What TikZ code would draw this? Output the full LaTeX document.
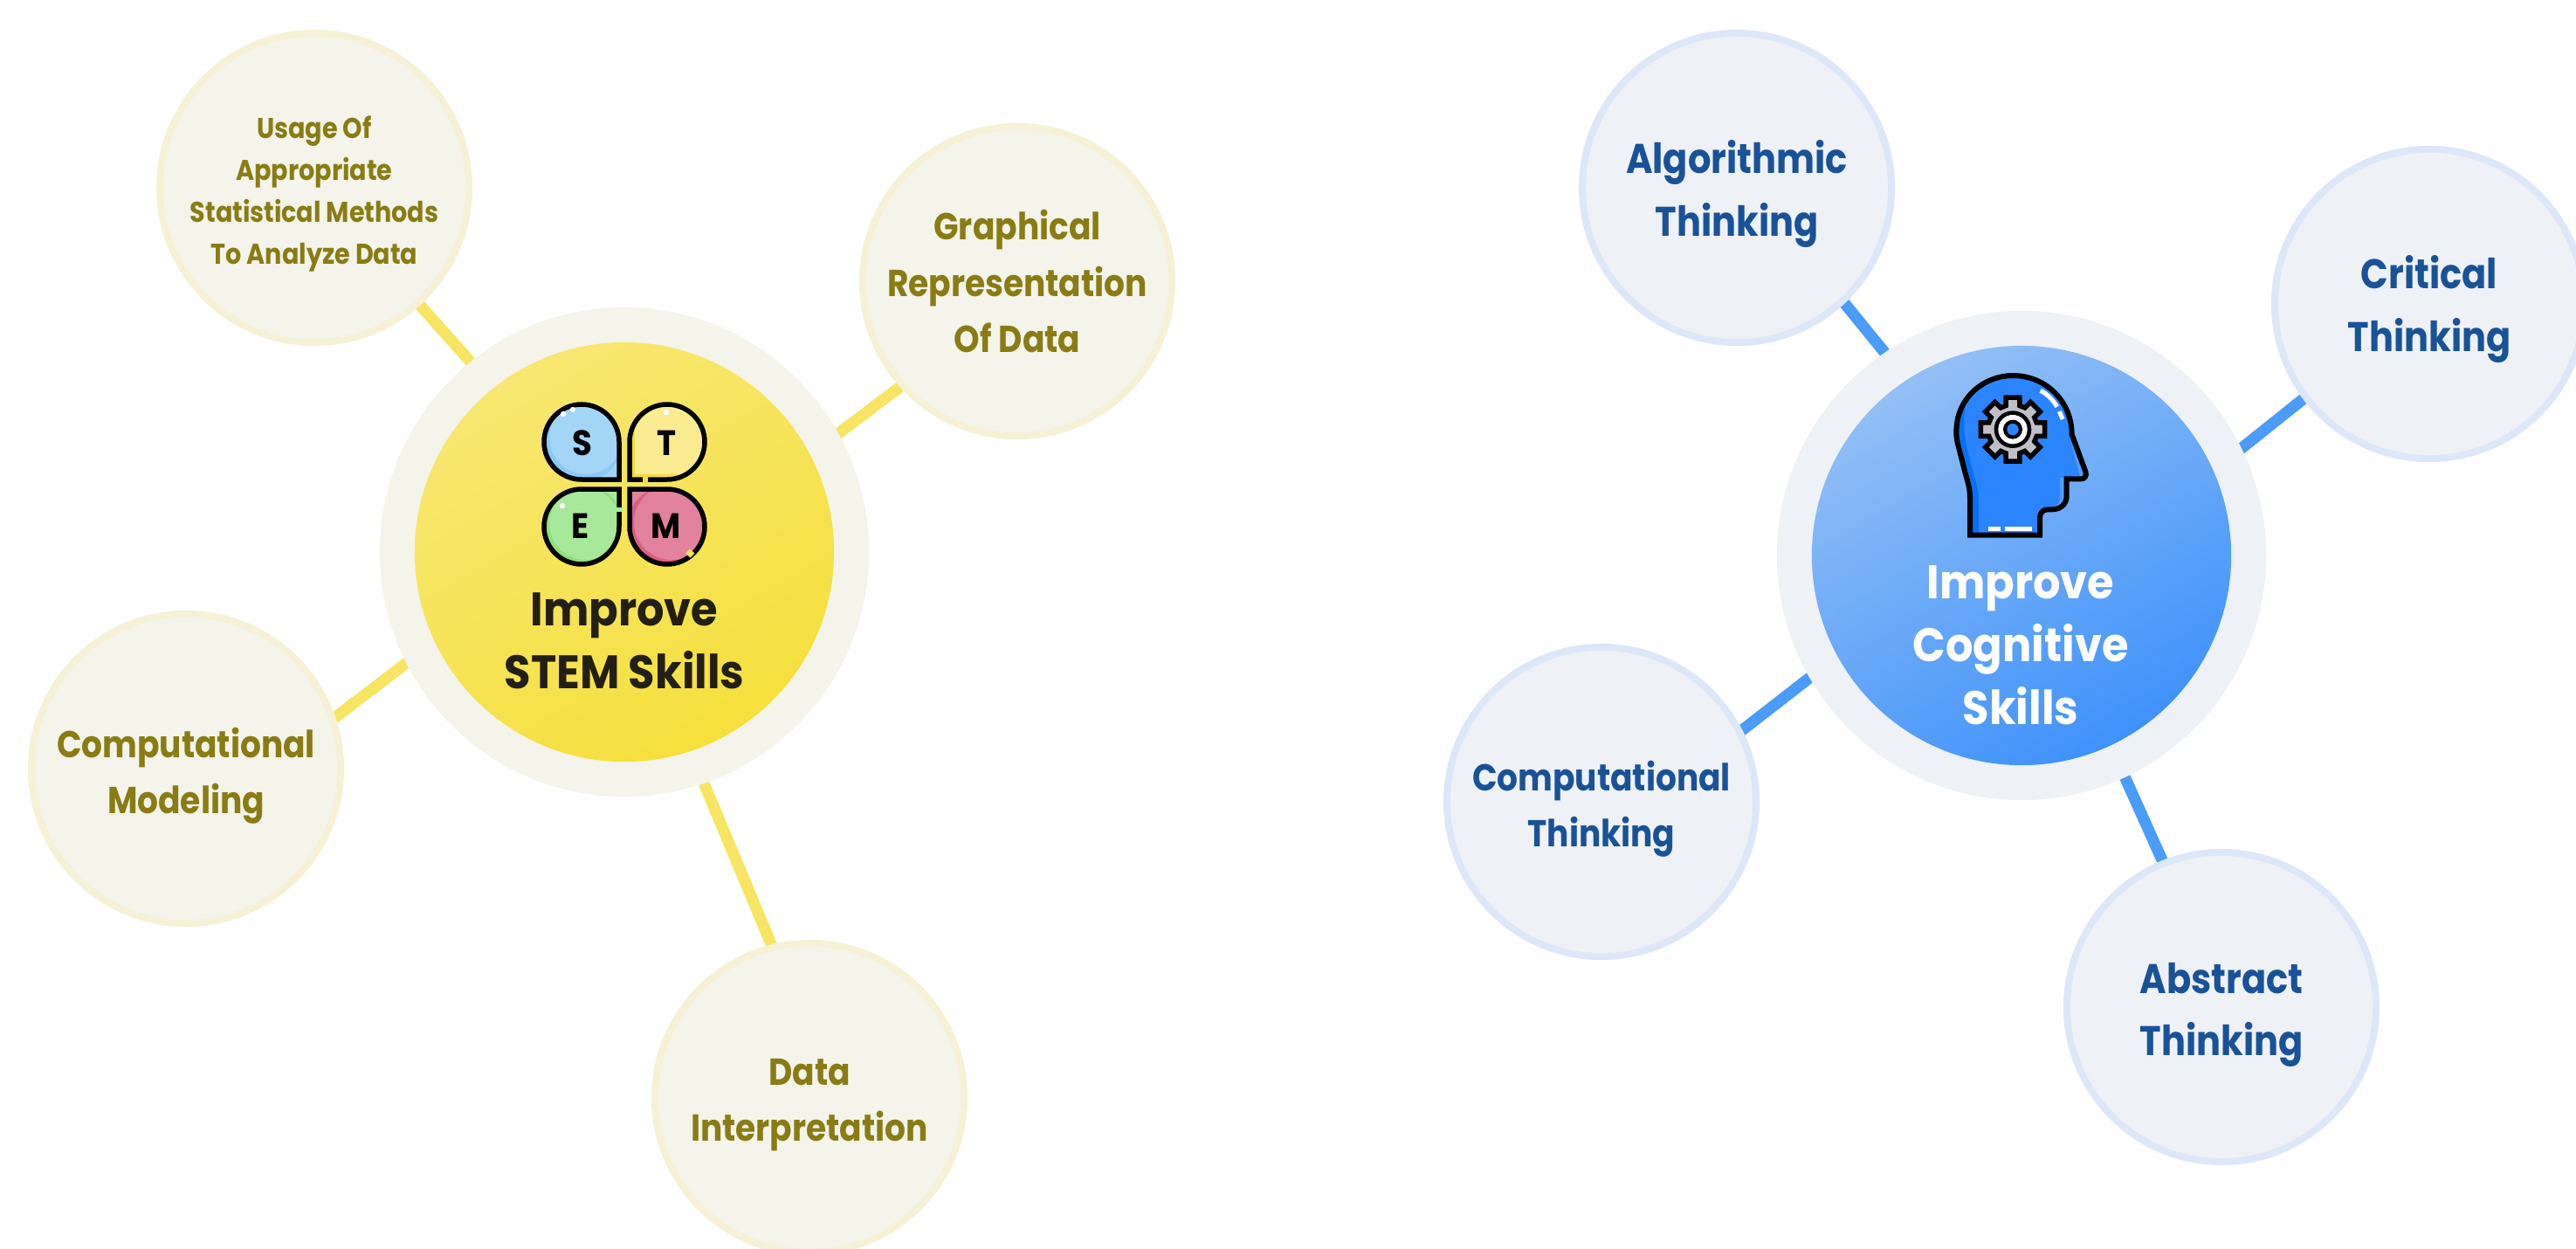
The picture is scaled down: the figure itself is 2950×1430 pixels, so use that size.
\documentclass[tikz,border=0pt]{standalone}
\usepackage{fontspec}
\setmainfont{Poppins}[BoldFeatures={FakeStretch=0.875}]
\newfontfamily\heavy{Poppins}[BoldFeatures={FakeStretch=0.92}]
\usetikzlibrary{backgrounds}
\definecolor{ytext}{HTML}{8A7B14}
\definecolor{yfill}{HTML}{F4F4EA}
\definecolor{yedge}{HTML}{F6F1D5}
\definecolor{yline}{HTML}{F7E463}
\definecolor{btext}{HTML}{1A5299}
\definecolor{bfill}{HTML}{EEF2F7}
\definecolor{bedge}{HTML}{DCE8F9}
\definecolor{bline}{HTML}{4A9BFA}
\definecolor{headA}{HTML}{2A85FF}
\definecolor{headB}{HTML}{0A70F2}
\definecolor{gearG}{HTML}{BFBFC6}
\definecolor{ycoreA}{HTML}{F7E771}
\definecolor{ycoreB}{HTML}{F5E03C}
\definecolor{bcoreA}{HTML}{93BFF5}
\definecolor{bcoreB}{HTML}{3F92FB}
\definecolor{sA}{HTML}{A3D5F7}
\definecolor{sB}{HTML}{8CC8F5}
\definecolor{tA}{HTML}{FBEC92}
\definecolor{tB}{HTML}{F5DC3C}
\definecolor{eA}{HTML}{A8E89A}
\definecolor{eB}{HTML}{8FE07C}
\definecolor{mA}{HTML}{E2829E}
\definecolor{mB}{HTML}{D95F80}
\definecolor{gapY}{HTML}{F6E24E}
\definecolor{stemtext}{HTML}{231F14}
\tikzset{
  x=0.01cm,y=-0.01cm,
  sat/.style={circle,minimum size=3.54cm,inner sep=0pt,line width=0.08cm},
  ysat/.style={sat,draw=yedge,fill=yfill},
  bsat/.style={sat,draw=bedge,fill=bfill},
  ring/.style={circle,minimum size=5.6cm,inner sep=0pt},
  core/.style={circle,minimum size=4.8cm,inner sep=0pt},
  lab/.style={align=center,inner sep=0pt},
  small/.style={font=\bfseries\fontsize{9.3pt}{13.7pt}\selectfont},
  medium/.style={font=\bfseries\fontsize{12.2pt}{18.3pt}\selectfont},
  large/.style={font=\bfseries\fontsize{13.5pt}{20.4pt}\selectfont},
  heading/.style={font=\heavy\bfseries\fontsize{15.3pt}{20.4pt}\selectfont},
  ylab/.style={lab,text=ytext},
  blab/.style={lab,text=btext},
  yconn/.style={draw=yline,line width=0.13cm,shorten >=-0.06cm,shorten <=-0.06cm},
  bconn/.style={draw=bline,line width=0.13cm,shorten >=-0.06cm,shorten <=-0.06cm},
  iconline/.style={draw=black,line width=0.055cm,line join=miter},
  letter/.style={inner sep=0pt,font=\heavy\bfseries\fontsize{11.5pt}{11.5pt}\selectfont,text=black},
  shine/.style={draw=white,line width=0.05cm},
}
% a petal with its sharp corner at the origin, bulging to the up-left (local coordinates, r=43)
\newcommand{\petalpath}{(0,0) -- (-43,0) .. controls (-66.7,0) and (-86,-19.3) .. (-86,-43)
  .. controls (-86,-66.7) and (-66.7,-86) .. (-43,-86)
  .. controls (-19.3,-86) and (0,-66.7) .. (0,-43) -- cycle}
\begin{document}
\begin{tikzpicture}
\useasboundingbox (0,0) rectangle (2950,1430);
% ---- left cluster
\node[ring,fill=yfill] (ymain) at (715,632) {};
\node[core,top color=ycoreA,bottom color=ycoreB,shading angle=30] (ycore) at (715,632) {};
\node[ysat] (y1) at (360,215) {};
\node[ysat] (y2) at (1165,322) {};
\node[ysat] (y3) at (213,880) {};
\node[ysat] (y4) at (927,1257) {};
\node[ylab,small] (ty1) at (360,222) {Usage Of\\Appropriate\\Statistical Methods\\To Analyze Data};
\node[ylab,medium] (ty2) at (1165,322) {Graphical\\Representation\\Of Data};
\node[ylab,medium] (ty3) at (213,888) {Computational\\Modeling};
\node[ylab,medium] (ty4) at (927,1265) {Data\\Interpretation};
\node[lab,heading,text=stemtext] (tym) at (715,734) {Improve\\STEM Skills};
\begin{scope}[on background layer]
  \draw[yconn] (ymain.129.8) -- (y1.-48.4);
  \draw[yconn] (ymain.29.6) -- (y2.222);
  \draw[yconn] (ymain.207.2) -- (y3.19.4);
  \draw[yconn] (ymain.-71.9) -- (y4.104.5);
\end{scope}
% STEM icon
\begin{scope}[shift={(709,549)}]
  \fill[sA] \petalpath;
  \begin{scope}\clip \petalpath;
    \path[fill=sB,even odd rule] (-43,-43) circle[radius=46] (-38,-48) circle[radius=42];
  \end{scope}
  \draw[iconline] \petalpath;
  \fill[white] (-64,-75) circle[radius=3.2] (-53,-80) circle[radius=3.2];
\end{scope}
\begin{scope}[shift={(721,549)},xscale=-1]
  \fill[tA] \petalpath;
  \begin{scope}\clip \petalpath;
    \fill[tB] (-6,-6) rectangle (0,-90) (-86,-6) rectangle (0,0);
  \end{scope}
  \draw[iconline] \petalpath;
  \fill[white] (-42,-77) circle[radius=3.2];
  \fill[tB] (-15,-4) rectangle (-21,4);
\end{scope}
\begin{scope}[shift={(709,560)},yscale=-1]
  \fill[eA] \petalpath;
  \begin{scope}\clip \petalpath;
    \path[fill=eB,even odd rule] (-43,-43) circle[radius=46] (-38,-39) circle[radius=42];
  \end{scope}
  \draw[iconline] \petalpath;
  \fill[eA] (-4,-21) rectangle (4,-26);
\end{scope}
\fill[white] (644,579) circle[radius=3.2];
\begin{scope}[shift={(721,560)},xscale=-1,yscale=-1]
  \fill[mA] \petalpath;
  \begin{scope}\clip \petalpath;
    \path[fill=mB,even odd rule] (-43,-43) circle[radius=46] (-48,-38) circle[radius=43];
  \end{scope}
  \draw[iconline] \petalpath;
\end{scope}
\draw[gapY,line width=0.07cm] (787.5,631) -- (793,636);
\node[letter] (ls) at (667,507) {S};
\node[letter] (lt) at (763,507) {T};
\node[letter] (le) at (665,602) {E};
\node[letter] (lm) at (763,602) {M};
% ---- right cluster
\node[ring,fill=bfill] (bmain) at (2315,636) {};
\node[core,top color=bcoreA,bottom color=bcoreB,shading angle=30] (bcore) at (2315,636) {};
\node[bsat] (b1) at (1989,215) {};
\node[bsat] (b2) at (2782,348) {};
\node[bsat] (b3) at (1834,918) {};
\node[bsat] (b4) at (2544,1153) {};
\node[blab,large] (tb1) at (1989,222) {Algorithmic\\Thinking};
\node[blab,large] (tb2) at (2782,354) {Critical\\Thinking};
\node[blab,medium] (tb3) at (1834,926) {Computational\\Thinking};
\node[blab,large] (tb4) at (2544,1162) {Abstract\\Thinking};
\node[lab,heading,text=white] (tbm) at (2314,739) {Improve\\Cognitive\\Skills};
\begin{scope}[on background layer]
  \draw[bconn] (bmain.124.4) -- (b1.-47.9);
  \draw[bconn] (bmain.26) -- (b2.217);
  \draw[bconn] (bmain.210) -- (b3.27.9);
  \draw[bconn] (bmain.-65.5) -- (b4.112.8);
\end{scope}
% head icon (coordinates: zoom/3 from 2190,410)
\begin{scope}[shift={(2190,410)},scale=0.3333]
  \def\headpath{(198,608) -- (198,480) .. controls (198,440) and (185,410) .. (178,380) -- (160,310)
    .. controls (150,275) and (150,255) .. (152,235)
    .. controls (160,130) and (250,60) .. (345,60)
    .. controls (460,60) and (548,150) .. (548,262)
    -- (595,390) .. controls (600,405) and (592,415) .. (580,415)
    -- (530,415) -- (530,475) .. controls (530,500) and (510,520) .. (480,520)
    -- (465,520) .. controls (448,520) and (438,532) .. (438,550) -- (438,608) -- cycle}
  \fill[headA] \headpath;
  \begin{scope}\clip \headpath;
    \fill[headB] (140,50) -- (225,50) .. controls (180,120) and (165,220) .. (190,320)
      .. controls (210,400) and (228,440) .. (228,500) -- (228,620) -- (140,620) -- cycle;
    \fill[headB!60!white,opacity=0.7] (545,290) -- (590,405) -- (520,410) -- (520,480) .. controls (520,505) and (495,520) .. (470,520)
      -- (470,516) .. controls (495,516) and (508,500) .. (508,475) -- (508,410) -- (578,410) -- cycle;
  \end{scope}
  \draw[iconline,line width=0.06cm] \headpath;
  \begin{scope}[shift={(345,245)}]
    \draw[draw=black,line width=0.055cm,fill=gearG,line join=miter]
      (-16:85) \foreach \a in {0,45,...,315} { -- (\a-16:85) -- (\a-12:112) -- (\a+12:112) -- (\a+16:85) } -- cycle;
    \fill[black] (0,0) circle[radius=64];
    \fill[white] (0,0) circle[radius=50];
    \fill[black] (0,0) circle[radius=33];
    \fill[headA] (0,0) circle[radius=20];
  \end{scope}
  \draw[shine,line width=0.05cm] (440,112) .. controls (462,122) and (482,142) .. (497,167);
  \draw[shine,line width=0.05cm] (505,183) -- (516,210);
  \draw[shine] (262,586) -- (303,586);
  \draw[shine] (318,586) -- (411,586);
\end{scope}
\end{tikzpicture}
\end{document}
